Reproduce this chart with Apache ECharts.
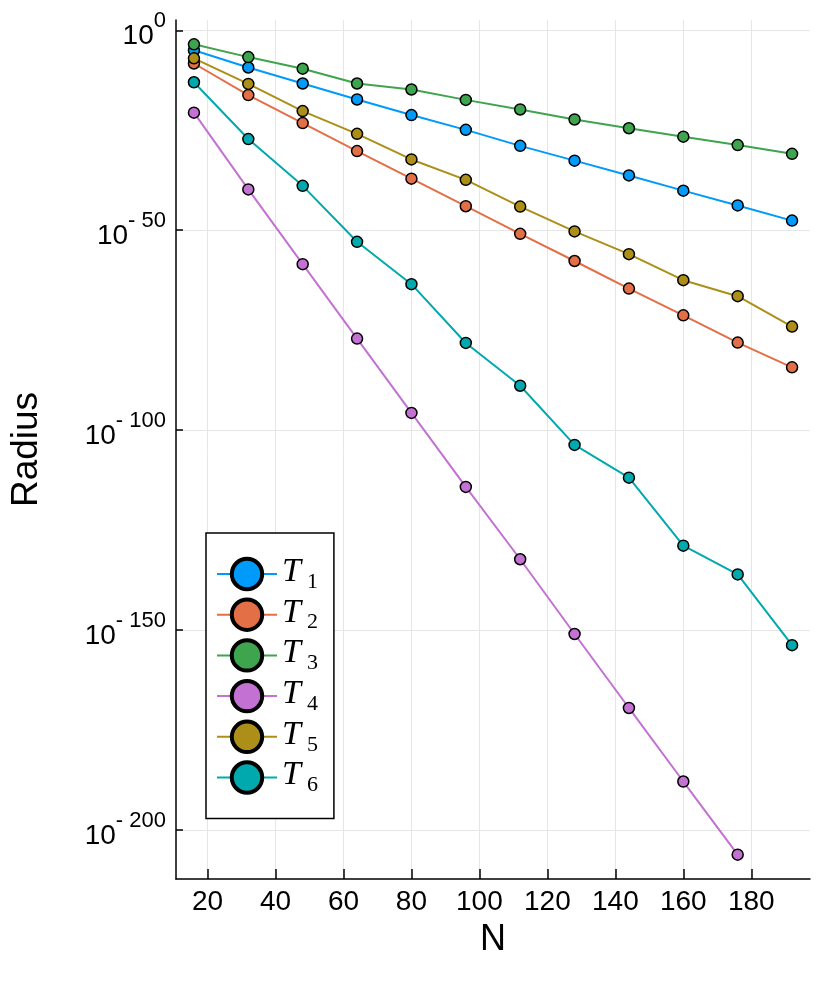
<!DOCTYPE html>
<html lang="en">
<head>
<meta charset="utf-8">
<script src="https://cdn.jsdelivr.net/npm/echarts@6/dist/echarts.min.js"></script>
<style>
	html, body { margin: 0; padding: 0; background: #fff; }
	#chart { width: 830px; height: 997px; }
</style>
</head>
<body>
<div id="chart"></div>
<script>
	// N values on the x axis
	var sizes = [16, 32, 48, 64, 80, 96, 112, 128, 144, 160, 176, 192];
	// log10 of the radius
	var t1 = [-5.0, -9.3, -13.3, -17.3, -21.2, -24.9, -28.9, -32.6, -36.3, -40.1, -43.8, -47.6];
	var t2 = [-8.3, -16.2, -23.2, -30.2, -37.1, -44.0, -50.9, -57.7, -64.6, -71.3, -78.1, -84.3];
	var t3 = [-3.5, -6.7, -9.6, -13.3, -14.8, -17.4, -19.8, -22.3, -24.5, -26.6, -28.7, -30.9];
	var t4 = [-20.6, -39.8, -58.5, -77.1, -95.7, -114.2, -132.3, -151.0, -169.5, -187.9, -206.2];
	var t5 = [-7.0, -13.4, -20.2, -25.9, -32.3, -37.4, -44.1, -50.3, -56.0, -62.5, -66.5, -74.1];
	var t6 = [-13.0, -27.2, -38.9, -52.9, -63.5, -78.2, -88.9, -103.7, -111.9, -128.9, -136.1, -153.8];
	var names = ['T1', 'T2', 'T3', 'T4', 'T5', 'T6'];
	var colors = ['#009AFA', '#E36F47', '#3EA44E', '#C371D2', '#AC8E18', '#00A9AD'];
	var xTicks = [20, 40, 60, 80, 100, 120, 140, 160, 180];
	var yTicks = [0, -50, -100, -150, -200];

	var all = [t1, t2, t3, t4, t5, t6];

	function pairs(ys) {
		return ys.map(function (y, i) { return [sizes[i], y]; });
	}

	var series = all.map(function (ys, k) {
		return {
			name: names[k],
			type: 'line',
			data: pairs(ys),
			symbol: 'circle',
			symbolSize: 11,
			lineStyle: { width: 2, color: colors[k] },
			itemStyle: { color: colors[k], borderColor: '#000', borderWidth: 1.5 },
			emphasis: { disabled: true },
			animation: false
		};
	});

	var chart = echarts.init(document.getElementById('chart'));
	chart.setOption({
		color: colors,
		animation: false,
		grid: { left: 176, right: 20, top: 20, bottom: 118, containLabel: false },
		legend: {
			orient: 'vertical',
			left: 206,
			top: 533,
			padding: [22, 16, 22, 10],
			itemWidth: 60,
			itemHeight: 38,
			itemGap: 2.7,
			backgroundColor: '#fff',
			borderColor: '#000',
			borderWidth: 1.5,
			borderRadius: 0,
			itemStyle: { borderColor: '#000', borderWidth: 4 },
			formatter: function (name) {
				return '{t|T}{s|' + name.slice(1) + '}';
			},
			textStyle: {
				rich: {
					t: { fontFamily: 'Liberation Serif', fontStyle: 'italic', fontSize: 34, lineHeight: 38, color: '#000', verticalAlign: 'top' },
					s: { fontFamily: 'Liberation Serif', fontSize: 22, lineHeight: 22, color: '#000', verticalAlign: 'bottom', padding: [0, 0, 0, 6] }
				}
			}
		},
		xAxis: {
			type: 'value',
			min: 10.72,
			max: 197.28,
			name: 'N',
			nameLocation: 'middle',
			nameGap: 43,
			nameTextStyle: { fontFamily: 'Liberation Sans', fontSize: 36, color: '#000' },
			axisLine: { show: true, onZero: false, lineStyle: { color: '#000', width: 1.5 } },
			axisTick: { inside: true, length: 10, lineStyle: { color: '#000', width: 1.5 }, customValues: xTicks },
			axisLabel: { margin: 9, fontFamily: 'Liberation Sans', fontSize: 28, color: '#000', customValues: xTicks },
			splitLine: { show: true, lineStyle: { color: '#e6e6e6', width: 1 } }
		},
		yAxis: {
			type: 'value',
			min: -212.28,
			max: 2.58,
			name: 'Radius',
			nameLocation: 'middle',
			nameGap: 131,
			nameTextStyle: { fontFamily: 'Liberation Sans', fontSize: 37, color: '#000' },
			axisLine: { show: true, onZero: false, lineStyle: { color: '#000', width: 1.5 } },
			axisTick: { inside: true, length: 7, lineStyle: { color: '#000', width: 1.5 }, customValues: yTicks },
			axisLabel: {
				margin: 10,
				customValues: yTicks,
				formatter: function (v) {
					if (v === 0) return '{b|10}{s|0}';
					return '{b|10}{s|- ' + (-v) + '}';
				},
				rich: {
					b: { fontFamily: 'Liberation Sans', fontSize: 28, lineHeight: 40, color: '#000', verticalAlign: 'bottom' },
					s: { fontFamily: 'Liberation Sans', fontSize: 22, lineHeight: 22, color: '#000', verticalAlign: 'top' }
				}
			},
			splitLine: { show: true, lineStyle: { color: '#e6e6e6', width: 1 } }
		},
		series: series
	});
</script>
</body>
</html>
